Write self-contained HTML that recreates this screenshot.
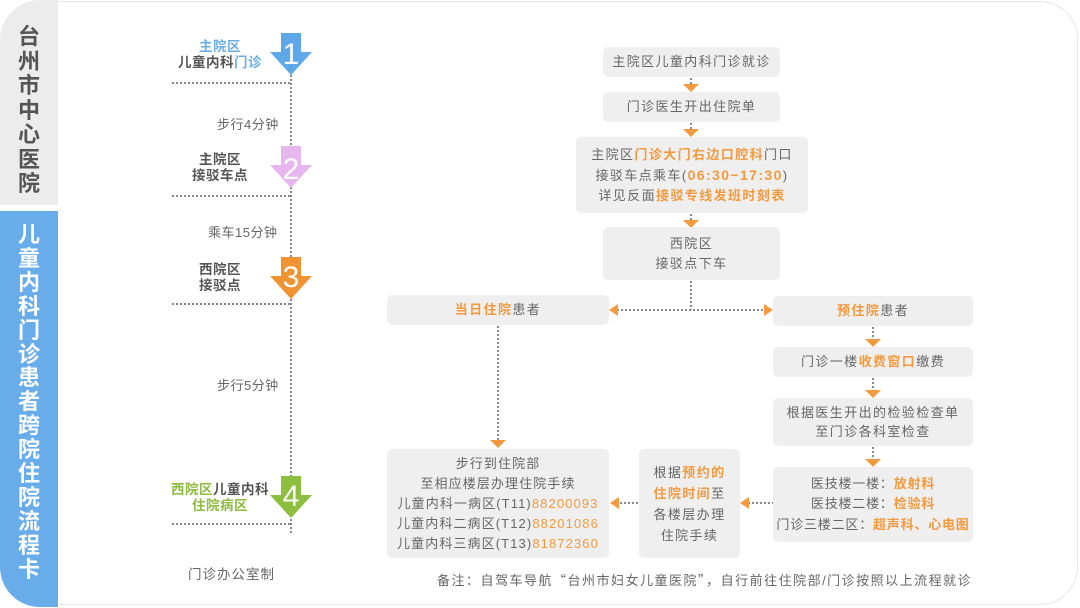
<!DOCTYPE html>
<html><head><meta charset="utf-8">
<style>
*{margin:0;padding:0;box-sizing:border-box}
html,body{width:1080px;height:608px;background:#fff;overflow:hidden}
body{position:relative;font-family:"Liberation Sans","Noto Sans CJK SC",sans-serif;color:#666}
.abs{position:absolute}
.card{position:absolute;left:56px;top:1px;width:1022px;height:604px;border:1px solid #e6e6e6;border-left:none;border-radius:0 38px 38px 0;background:#fff}
.gp{position:absolute;left:0;top:0;width:58px;height:205px;background:#ececec;border-top-left-radius:40px}
.bp{position:absolute;left:0;top:211px;width:58px;height:396px;background:#68adea;border-bottom-left-radius:40px}
.vt{position:absolute;left:0;width:58px;text-align:center;font-weight:bold;font-size:22px}
.box{position:absolute;background:#efefef;border-radius:5px;display:flex;flex-direction:column;justify-content:center;align-items:center;font-size:13px;letter-spacing:1.4px;line-height:20px;color:#666;text-align:center;white-space:nowrap}
.o{color:#f39a3f;font-weight:bold}
.on{color:#f39a3f}
.lb{position:absolute;font-size:13.5px;font-weight:bold;color:#555;text-align:center;line-height:16px;white-space:nowrap;letter-spacing:0.5px}
.st{position:absolute;font-size:13px;color:#666;white-space:nowrap;letter-spacing:0.5px}
.num{position:absolute;width:40px;text-align:center;color:#fff;font-size:30px;line-height:30px}
.cq{font-family:"Noto Sans CJK SC",sans-serif}
</style></head><body>
<div class="card"></div>
<div class="gp"></div>
<div class="bp"></div>
<div class="vt" style="top:25px;line-height:24.5px;color:#555">台<br>州<br>市<br>中<br>心<br>医<br>院</div>
<div class="vt" style="top:223px;line-height:23.9px;color:#fff">儿<br>童<br>内<br>科<br>门<br>诊<br>患<br>者<br>跨<br>院<br>住<br>院<br>流<br>程<br>卡</div>

<svg class="abs" style="left:0;top:0" width="1080" height="608">
<g stroke="#888" stroke-width="2" stroke-dasharray="2 2" fill="none">
<line x1="291" y1="75" x2="291" y2="534"/>
<line x1="172" y1="83" x2="291" y2="83"/>
<line x1="172" y1="196" x2="291" y2="196"/>
<line x1="172" y1="304" x2="291" y2="304"/>
<line x1="172" y1="524" x2="291" y2="524"/>
<line x1="691" y1="78" x2="691" y2="84"/>
<line x1="691" y1="123" x2="691" y2="129"/>
<line x1="691" y1="214" x2="691" y2="220"/>
<line x1="691" y1="281" x2="691" y2="310"/>
<line x1="617" y1="310" x2="765" y2="310"/>
<line x1="873" y1="327" x2="873" y2="339"/>
<line x1="873" y1="378" x2="873" y2="390"/>
<line x1="873" y1="447" x2="873" y2="459"/>
<line x1="498" y1="326" x2="498" y2="440"/>
<line x1="620" y1="503" x2="639" y2="503"/>
<line x1="748" y1="503" x2="773" y2="503"/>
</g>
<g fill="#f39a3f">
<polygon points="683,84 699,84 691,92"/>
<polygon points="683,129 699,129 691,137"/>
<polygon points="683,220 699,220 691,228"/>
<polygon points="609,310 618,304 618,316"/>
<polygon points="773,310 764,304 764,316"/>
<polygon points="865,339 881,339 873,347"/>
<polygon points="865,390 881,390 873,398"/>
<polygon points="865,459 881,459 873,467"/>
<polygon points="490,440 506,440 498,448"/>
<polygon points="610,503 619,497 619,509"/>
<polygon points="740,503 749,497 749,509"/>
</g>
<path d="M281,33H301V52H312L291,75L270,52H281Z" fill="#5fa8e8"/>
<path d="M281,146H301V165H312L291,188L270,165H281Z" fill="#e8b6ee"/>
<path d="M281,257H301V276H312L291,299L270,276H281Z" fill="#f09433"/>
<path d="M281,476H301V495H312L291,518L270,495H281Z" fill="#8cbf3f"/>
</svg>
<div class="num" style="left:271px;top:40px">1</div>
<div class="num" style="left:271px;top:155px">2</div>
<div class="num" style="left:271px;top:263px">3</div>
<div class="num" style="left:271px;top:482px">4</div>

<div class="lb" style="left:160px;width:120px;top:39px"><span style="color:#6aaee6">主院区</span><br>儿童内科<span style="color:#6aaee6">门诊</span></div>
<div class="st" style="left:217px;top:114px">步行4分钟</div>
<div class="lb" style="left:160px;width:120px;top:152px">主院区<br>接驳车点</div>
<div class="st" style="left:208px;top:222px">乘车15分钟</div>
<div class="lb" style="left:160px;width:120px;top:262px">西院区<br>接驳点</div>
<div class="st" style="left:217px;top:375px">步行5分钟</div>
<div class="lb" style="left:160px;width:120px;top:482px"><span style="color:#8dbb3c">西院区</span>儿童内科<br><span style="color:#8dbb3c">住院病区</span></div>
<div class="st" style="left:188px;top:563px;font-size:13.5px;letter-spacing:1px">门诊办公室制</div>

<div class="box" style="left:603px;top:47px;width:177px;height:30px">主院区儿童内科门诊就诊</div>
<div class="box" style="left:603px;top:92px;width:177px;height:30px">门诊医生开出住院单</div>
<div class="box" style="left:576px;top:137px;width:232px;height:76px"><div>主院区<span class="o">门诊大门右边口腔科</span>门口</div><div>接驳车点乘车(<span class="o" style="font-size:14px">06:30−17:30</span>)</div><div>详见反面<span class="o">接驳专线发班时刻表</span></div></div>
<div class="box" style="left:603px;top:227px;width:177px;height:53px"><div>西院区</div><div>接驳点下车</div></div>
<div class="box" style="left:387px;top:295px;width:222px;height:30px"><div><span class="o">当日住院</span>患者</div></div>
<div class="box" style="left:773px;top:296px;width:200px;height:30px"><div><span class="o">预住院</span>患者</div></div>
<div class="box" style="left:773px;top:347px;width:200px;height:30px"><div>门诊一楼<span class="o">收费窗口</span>缴费</div></div>
<div class="box" style="left:773px;top:398px;width:200px;height:48px;line-height:19px"><div>根据医生开出的检验检查单</div><div>至门诊各科室检查</div></div>
<div class="box" style="left:773px;top:467px;width:200px;height:75px;line-height:20.5px;letter-spacing:0.8px"><div>医技楼一楼：<span class="o">放射科</span></div><div>医技楼二楼：<span class="o">检验科</span></div><div>门诊三楼二区：<span class="o">超声科、心电图</span></div></div>
<div class="box" style="left:639px;top:449px;width:101px;height:109px;line-height:21px"><div>根据<span class="o">预约的</span></div><div><span class="o">住院时间</span>至</div><div>各楼层办理</div><div>住院手续</div></div>
<div class="box" style="left:387px;top:449px;width:222px;height:109px;letter-spacing:1.1px"><div>步行到住院部</div><div>至相应楼层办理住院手续</div><div>儿童内科一病区(T11)<span class="on">88200093</span></div><div>儿童内科二病区(T12)<span class="on">88201086</span></div><div>儿童内科三病区(T13)<span class="on">81872360</span></div></div>

<div class="st" style="left:437px;top:570px;letter-spacing:1.5px">备注：自驾车导航<span class="cq">“</span>台州市妇女儿童医院<span class="cq">”</span>，自行前往住院部/门诊按照以上流程就诊</div>
</body></html>
